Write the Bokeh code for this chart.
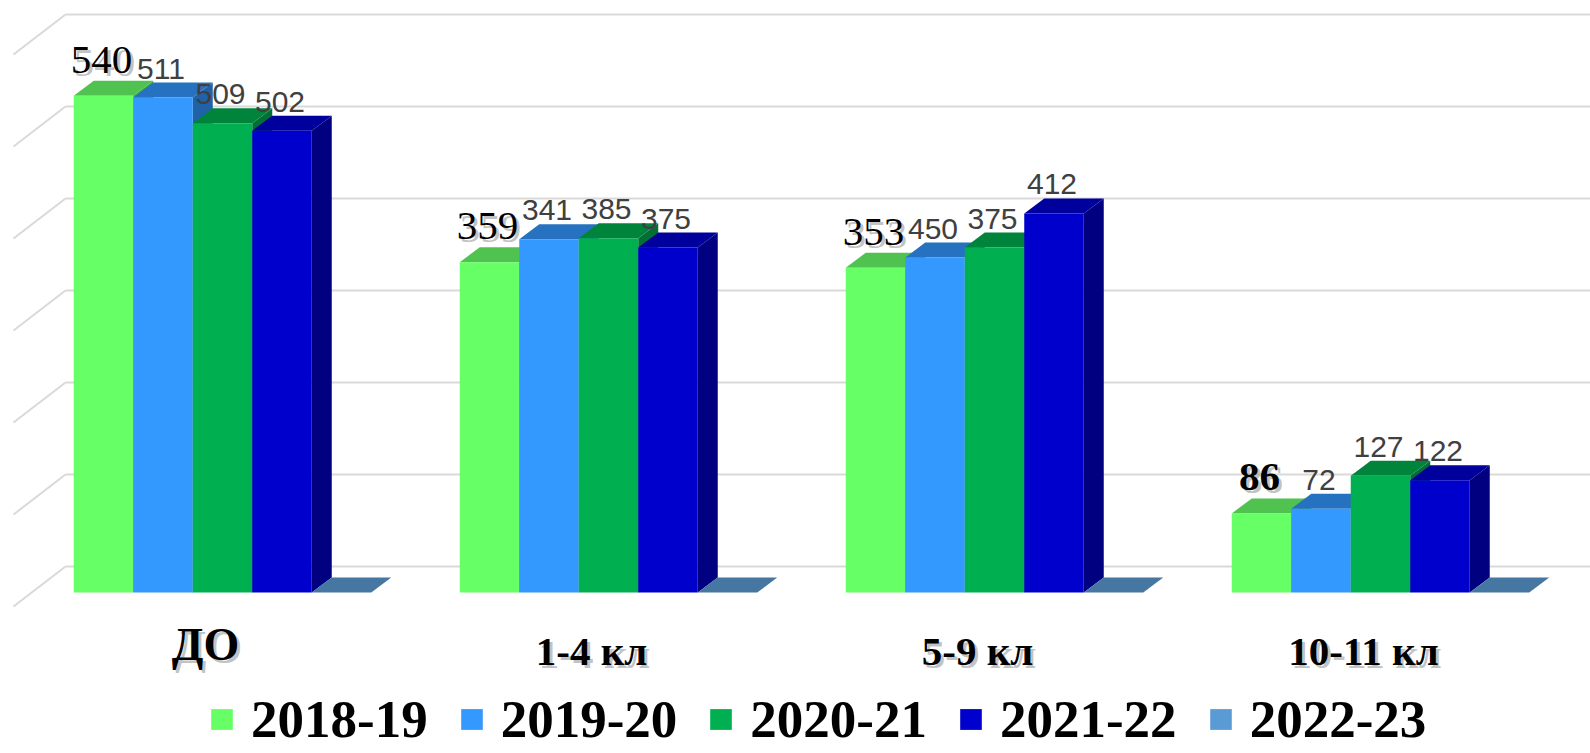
from bokeh.plotting import figure
from bokeh.models import Range1d, ColumnDataSource, Legend, LegendItem
from bokeh.core.properties import value
from bokeh.embed import file_html
from bokeh.resources import INLINE

# ---------------- data ----------------
categories = ["ДО", "1-4 кл", "5-9 кл", "10-11 кл"]
series = ["2018-19", "2019-20", "2020-21", "2021-22", "2022-23"]
# bar heights as drawn
v_2018_19 = [540, 359, 353, 86]
v_2019_20 = [538, 384, 364, 91]
v_2020_21 = [510, 385, 375, 127]
v_2021_22 = [502, 375, 412, 122]
v_2022_23 = [0, 0, 0, 0]
# data labels as printed
lab_2018_19 = ["540", "359", "353", "86"]
lab_2019_20 = ["511", "341", "450", "72"]
lab_2020_21 = ["509", "385", "375", "127"]
lab_2021_22 = ["502", "375", "412", "122"]
grid_levels = [0, 100, 200, 300, 400, 500, 600]

values = [v_2018_19, v_2019_20, v_2020_21, v_2021_22, v_2022_23]
labels = [lab_2018_19, lab_2019_20, lab_2020_21, lab_2021_22, None]

front_col = ["#66FF66", "#3399FF", "#00B050", "#0000CC", "#5B9BD5"]
top_col = ["#50C250", "#2672C0", "#00843C", "#00009C", "#4676A2"]
side_col = ["#3FA83F", "#1F62A8", "#007034", "#000080", "#3A6690"]

# ---------------- geometry (pixels -> data units) ----------------
W, H = 1590, 753
X0, XU = 29.0, 386.0       # px of x=0, px per category
Y0, YU = 592.0, 0.92       # px of value 0, px per unit
px = lambda q: q / XU
py = lambda q: q / YU

p = figure(width=W, height=H, output_backend="svg", toolbar_location=None,
           x_range=Range1d((0 - X0) / XU, (W - X0) / XU),
           y_range=Range1d((Y0 - H) / YU, Y0 / YU),
           min_border=0)
p.axis.visible = False
p.grid.visible = False
p.outline_line_color = None
p.background_fill_color = "white"
p.border_fill_color = "white"

# back wall grid
wall_x = px(65 - X0)
diag_x = px(13 - X0)
back_off = py(26)
gx0, gy0, gx1, gy1 = [], [], [], []
for g in grid_levels:
    yb = g + back_off
    gx0 += [wall_x, diag_x]
    gy0 += [yb, yb - py(40)]
    gx1 += [p.x_range.end + 0.1, wall_x]
    gy1 += [yb, yb]
p.segment(gx0, gy0, gx1, gy1, line_color="#D9D9D9", line_width=2)

# 3D bars
bw = px(59.5)
ddx, ddy = px(20), py(15)
nser = len(series)
front_renderers = []
for i in range(len(categories)):
    for j in range(nser):
        v = values[j][i]
        x0 = i + 0.5 - nser / 2 * bw + j * bw
        x1 = x0 + bw
        if v > 0:
            p.patch([x1, x1 + ddx, x1 + ddx, x1], [0, ddy, v + ddy, v],
                    fill_color=side_col[j], line_color=None)
        p.patch([x0, x1, x1 + ddx, x0 + ddx], [v, v, v + ddy, v + ddy],
                fill_color=top_col[j], line_color=None)
for j in range(nser):
    lefts = [i + 0.5 - nser / 2 * bw + j * bw for i in range(len(categories))]
    src = ColumnDataSource(dict(left=lefts, right=[l + bw for l in lefts],
                                top=values[j], bottom=[0] * len(lefts)))
    r = p.quad(left="left", right="right", top="top", bottom="bottom", source=src,
               fill_color=front_col[j], line_color=None)
    front_renderers.append(r)

# data labels (vertical middle of text placed above the bar top)
sh_dx, sh_dy = px(3), py(-3)
for j in range(nser - 1):
    xs = [i + 0.5 - nser / 2 * bw + j * bw + bw / 2 - px(2) for i in range(len(categories))]
    if j == 0:
        ys = [values[j][i] + py(36) for i in range(len(categories))]
        styles = ["normal", "normal", "normal", "bold"]
        p.text([x + sh_dx for x in xs], [y + sh_dy for y in ys], text=labels[j],
               text_font=value("Liberation Serif"), text_font_size="41px",
               text_font_style=styles, text_color="#9A9A9A", text_alpha=0.6,
               text_align="center", text_baseline="middle")
        p.text(xs, ys, text=labels[j], text_font=value("Liberation Serif"),
               text_font_size="41px", text_font_style=styles, text_color="black",
               text_align="center", text_baseline="middle")
    else:
        ys = [values[j][i] + py(29) for i in range(len(categories))]
        p.text(xs, ys, text=labels[j], text_font=value("Liberation Sans"),
               text_font_size="30px", text_color="#404040",
               text_align="center", text_baseline="middle")

# category labels
cx = [i + 0.5 - px(17) for i in range(len(categories))]
cy = [py(Y0 - 644), py(Y0 - 650), py(Y0 - 650), py(Y0 - 650)]
csize = ["46px", "41px", "41px", "41px"]
p.text([x + sh_dx for x in cx], [y + sh_dy for y in cy], text=categories,
       text_font=value("Liberation Serif"), text_font_size=csize, text_font_style="bold",
       text_color="#9A9A9A", text_alpha=0.6, text_align="center", text_baseline="middle")
p.text(cx, cy, text=categories, text_font=value("Liberation Serif"), text_font_size=csize,
       text_font_style="bold", text_color="black", text_align="center",
       text_baseline="middle")

# legend
legend = Legend(items=[LegendItem(label=series[j], renderers=[front_renderers[j]])
                       for j in range(nser)],
                orientation="horizontal", location=(208, 4),
                glyph_width=27, glyph_height=26, label_standoff=16, spacing=30,
                padding=0, margin=0, border_line_color=None,
                background_fill_alpha=0, label_text_font="Liberation Serif",
                label_text_font_style="bold", label_text_font_size="53px",
                label_text_color="black")
p.add_layout(legend, "center")

open("out.html", "w").write(file_html(p, INLINE))
